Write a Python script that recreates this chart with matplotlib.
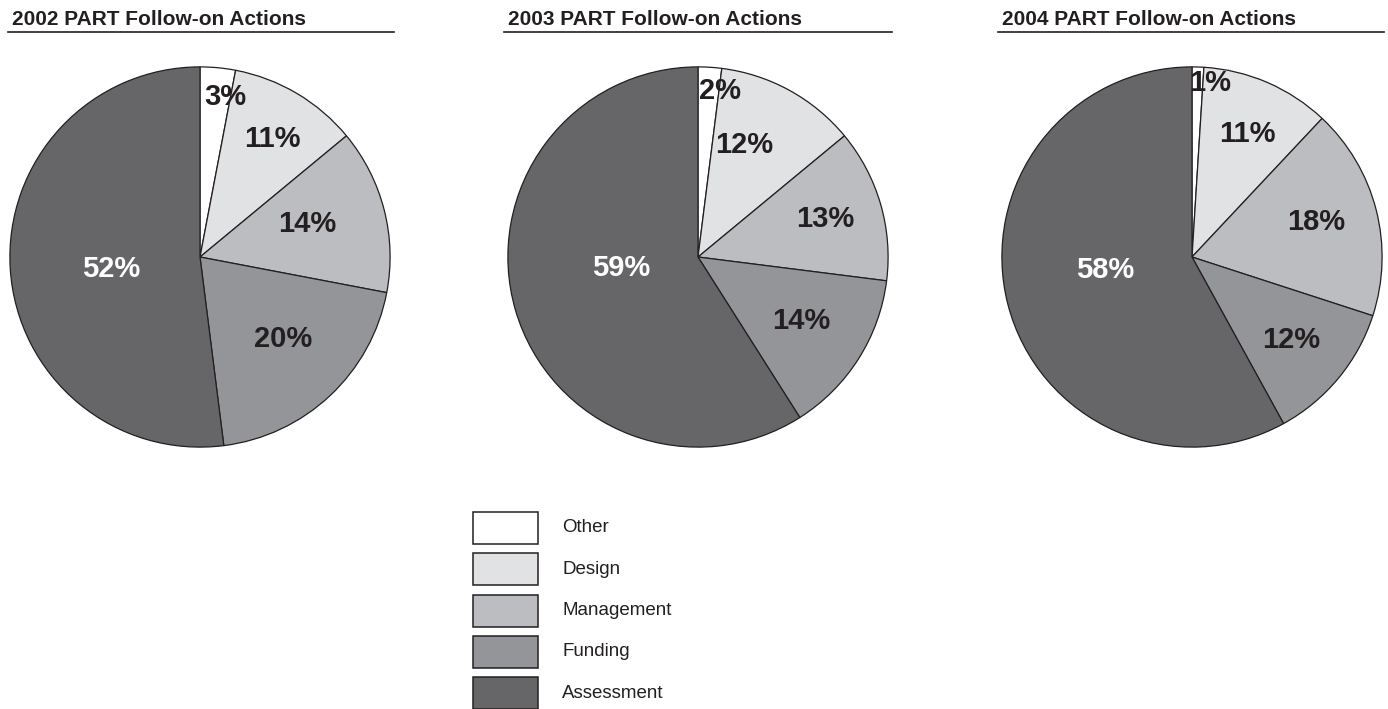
import numpy as np
import matplotlib
matplotlib.use("Agg")
import matplotlib.pyplot as plt
from matplotlib.lines import Line2D
from matplotlib.patches import Rectangle

plt.rcParams['font.family'] = ['Liberation Sans', 'DejaVu Sans']

# data
categories = ['Other', 'Design', 'Management', 'Funding', 'Assessment']
years = ['2002', '2003', '2004']
shares_2002 = [3, 11, 14, 20, 52]
shares_2003 = [2, 12, 13, 14, 59]
shares_2004 = [1, 11, 18, 12, 58]

colors = ['#ffffff', '#e1e2e4', '#bcbdc0', '#939598', '#666668']
text_dark = '#231f20'

# label placement inside each pie: (radius fraction, angle in degrees)
label_pos = [
    [(0.85, 81), (0.73, 58.5), (0.59, 17.0), (0.615, -44.7), (0.47, 188)],
    [(0.88, 82.5), (0.64, 67.6), (0.70, 16.8), (0.64, -31.8), (0.41, 188)],
    [(0.92, 84), (0.71, 65.9), (0.68, 15.6), (0.68, -39.7), (0.46, 188.5)],
]

W, H = 1388, 709
fig = plt.figure(figsize=(W / 100, H / 100), dpi=100)

pie_cx = [200, 698, 1192]
pie_cy = 257
pie_r = 192
rule_x = [(8, 394), (504, 892), (998, 1384)]

all_shares = [shares_2002, shares_2003, shares_2004]
for i, shares in enumerate(all_shares):
    cx = pie_cx[i]
    ax = fig.add_axes([(cx - pie_r) / W, (H - pie_cy - pie_r) / H,
                       2 * pie_r / W, 2 * pie_r / H])
    ax.pie(shares, colors=colors, startangle=90, counterclock=False,
           radius=1, wedgeprops={'edgecolor': text_dark, 'linewidth': 0.9})
    ax.set_xlim(-1.01, 1.01)
    ax.set_ylim(-1.01, 1.01)
    ax.axis('off')
    for j, v in enumerate(shares):
        d, a = label_pos[i][j]
        x = d * np.cos(np.radians(a))
        y = d * np.sin(np.radians(a))
        col = 'white' if categories[j] == 'Assessment' else text_dark
        ax.text(x, y, '{}%'.format(v), ha='center', va='center',
                fontsize=21, fontweight='bold', color=col)

    # title and rule
    x0, x1 = rule_x[i]
    fig.text((x0 + 4) / W, (H - 25) / H, '{} PART Follow-on Actions'.format(years[i]),
             fontsize=15, fontweight='bold', color=text_dark, va='baseline', ha='left')
    fig.add_artist(Line2D([x0 / W, x1 / W], [(H - 32) / H, (H - 32) / H],
                          color=text_dark, linewidth=1.2))

# legend (boxes + names), drawn in pixel layout
box_x, box_w, box_h = 473, 65, 32
row_top, row_step = 512, 41.3
for k, (name, c) in enumerate(zip(categories, colors)):
    top = row_top + k * row_step
    fig.add_artist(Rectangle((box_x / W, (H - top - box_h) / H), box_w / W, box_h / H,
                             facecolor=c, edgecolor=text_dark, linewidth=1.1,
                             transform=fig.transFigure))
    fig.text(562 / W, (H - top - box_h / 2) / H, name, fontsize=13.5,
             color=text_dark, va='center', ha='left')

fig.savefig('out.png', dpi=100)
